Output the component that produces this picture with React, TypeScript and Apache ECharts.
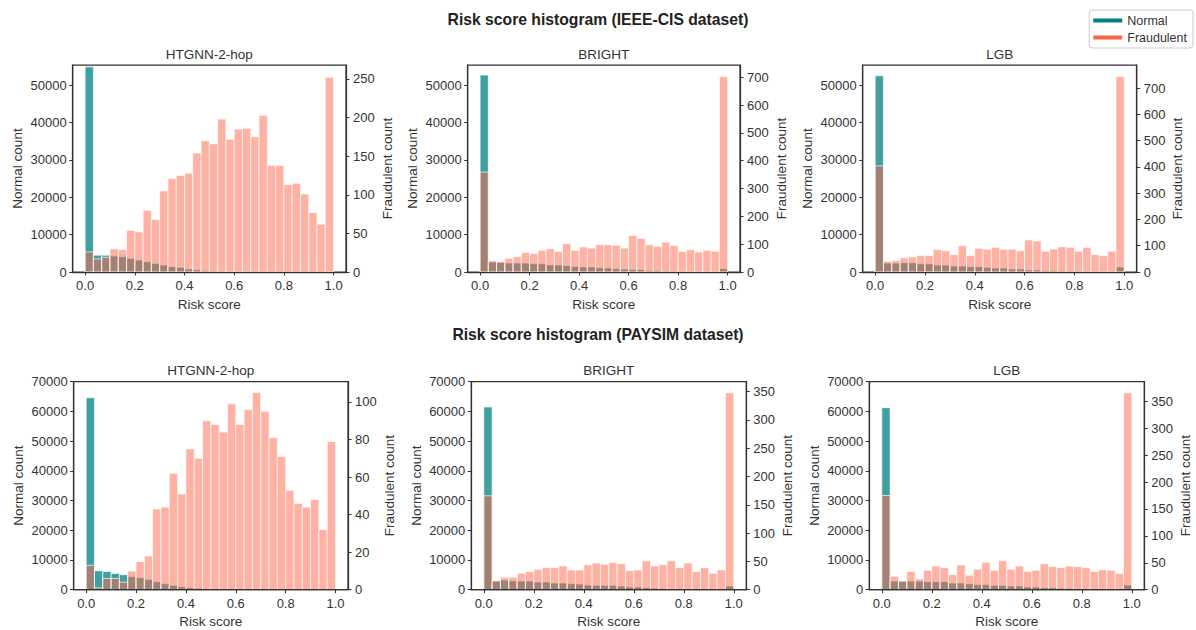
import React, { useEffect, useRef } from "react";
import * as echarts from "echarts";

// ---------- data ----------
const NBINS = 30;
const riskTicks = [0, 0.2, 0.4, 0.6, 0.8, 1.0];

const ieeeNormalTicks = [0, 10000, 20000, 30000, 40000, 50000];
const paysimNormalTicks = [0, 10000, 20000, 30000, 40000, 50000, 60000, 70000];

const ieeeHtgnnFraudTicks = [0, 50, 100, 150, 200, 250];
const ieeeBrightFraudTicks = [0, 100, 200, 300, 400, 500, 600, 700];
const ieeeLgbFraudTicks = [0, 100, 200, 300, 400, 500, 600, 700];
const paysimHtgnnFraudTicks = [0, 20, 40, 60, 80, 100];
const paysimBrightFraudTicks = [0, 50, 100, 150, 200, 250, 300, 350];
const paysimLgbFraudTicks = [0, 50, 100, 150, 200, 250, 300, 350];

const ieeeHtgnnNormal = [54900, 4500, 4500, 4300, 4100, 3650, 3200, 2760, 2300, 1870, 1430, 1250, 800, 620, 360, 270, 180, 120, 90, 70, 50, 40, 30, 20, 15, 10, 10, 10, 10, 100];
const ieeeHtgnnFraud = [26, 17, 19, 30, 29, 54, 52, 80, 68, 105, 121, 125, 128, 154, 170, 166, 198, 172, 185, 186, 175, 203, 138, 138, 113, 115, 101, 77, 62, 252];

const ieeeBrightNormal = [52700, 2670, 2600, 2400, 2400, 2400, 2230, 2230, 1870, 1870, 1700, 1500, 1340, 1340, 1160, 1070, 890, 800, 710, 620, 360, 360, 270, 270, 180, 150, 100, 100, 80, 890];
const ieeeBrightFraud = [359, 40, 37, 49, 55, 70, 66, 78, 84, 74, 102, 78, 90, 86, 98, 98, 96, 86, 131, 121, 98, 92, 107, 95, 74, 80, 72, 78, 75, 702];

const ieeeLgbNormal = [52500, 2400, 2400, 2500, 2500, 2200, 2200, 1870, 1870, 1600, 1600, 1430, 1430, 1250, 1070, 1070, 800, 800, 530, 530, 360, 360, 270, 270, 180, 180, 100, 100, 80, 1340];
const ieeeLgbFraud = [404, 41, 44, 54, 57, 63, 63, 85, 81, 66, 100, 63, 90, 87, 94, 87, 87, 81, 122, 118, 79, 87, 96, 94, 79, 94, 66, 62, 79, 744];

const paysimHtgnnNormal = [64600, 6380, 6160, 5490, 5040, 4480, 4030, 3470, 2690, 2020, 1460, 1000, 670, 450, 220, 120, 60, 30, 20, 10, 10, 5, 5, 5, 5, 5, 5, 5, 5, 10];
const paysimHtgnnFraud = [13, 1, 6, 6, 4, 10, 15, 18, 43, 44, 62, 51, 75, 70, 90, 88, 84, 99, 88, 96, 105, 95, 81, 71, 53, 46, 44, 48, 32, 79];

const paysimBrightNormal = [61500, 2900, 3250, 3000, 2900, 2900, 2580, 2580, 2240, 2240, 2020, 1900, 1570, 1460, 1460, 1460, 1230, 900, 900, 670, 450, 340, 220, 220, 150, 100, 80, 60, 50, 1230];
const paysimBrightFraud = [166, 16, 22, 22, 29, 32, 36, 39, 39, 42, 35, 35, 44, 47, 45, 48, 46, 34, 35, 51, 42, 44, 51, 39, 47, 32, 39, 29, 35, 348];

const paysimLgbNormal = [61250, 2900, 2900, 2900, 2900, 2700, 2700, 2700, 2240, 2240, 2020, 1790, 1790, 1460, 1460, 1230, 1230, 900, 900, 670, 670, 450, 340, 220, 220, 150, 100, 80, 60, 1570];
const paysimLgbFraud = [175, 25, 16, 34, 20, 36, 44, 41, 28, 46, 27, 38, 51, 36, 54, 38, 44, 34, 36, 48, 43, 41, 44, 43, 41, 34, 37, 36, 30, 366];

const mainTitles = ["Risk score histogram (IEEE-CIS dataset)", "Risk score histogram (PAYSIM dataset)"];
const modelNames = ["HTGNN-2-hop", "BRIGHT", "LGB"];

// ---------- panel setup ----------
const panels = [
  { title: modelNames[0], normal: ieeeHtgnnNormal, fraud: ieeeHtgnnFraud, leftMax: 55400, leftTicks: ieeeNormalTicks, rightMax: 268, rightTicks: ieeeHtgnnFraudTicks },
  { title: modelNames[1], normal: ieeeBrightNormal, fraud: ieeeBrightFraud, leftMax: 55400, leftTicks: ieeeNormalTicks, rightMax: 744, rightTicks: ieeeBrightFraudTicks },
  { title: modelNames[2], normal: ieeeLgbNormal, fraud: ieeeLgbFraud, leftMax: 55400, leftTicks: ieeeNormalTicks, rightMax: 788, rightTicks: ieeeLgbFraudTicks },
  { title: modelNames[0], normal: paysimHtgnnNormal, fraud: paysimHtgnnFraud, leftMax: 70000, leftTicks: paysimNormalTicks, rightMax: 110.8, rightTicks: paysimHtgnnFraudTicks },
  { title: modelNames[1], normal: paysimBrightNormal, fraud: paysimBrightFraud, leftMax: 70000, leftTicks: paysimNormalTicks, rightMax: 367.6, rightTicks: paysimBrightFraudTicks },
  { title: modelNames[2], normal: paysimLgbNormal, fraud: paysimLgbFraud, leftMax: 70000, leftTicks: paysimNormalTicks, rightMax: 386.5, rightTicks: paysimLgbFraudTicks },
];

const layouts = [
  { left: 72.7, top: 65, width: 273.3, height: 207 },
  { left: 467.7, top: 65, width: 272.3, height: 207 },
  { left: 862.7, top: 65, width: 274, height: 207 },
  { left: 73.7, top: 381.7, width: 274.3, height: 208 },
  { left: 471.3, top: 381.7, width: 275, height: 208 },
  { left: 869.3, top: 381.7, width: 275, height: 208 },
];

const FONT = "'Liberation Sans', Arial, Helvetica, sans-serif";
const TEXT = "#333333";
const AXIS = "#333333";
const NORMAL_FILL = "rgba(0,128,128,0.75)";
const FRAUD_FILL = "rgba(255,99,71,0.5)";
const NORMAL_LEGEND = "#008080";
const FRAUD_LEGEND = "#ff6347";

function makeRender(fill: string) {
  return (params: any, api: any) => {
    const x0 = api.value(0);
    const x1 = api.value(1);
    const v = api.value(2);
    const a = api.coord([x0, v]);
    const b = api.coord([x1, 0]);
    return {
      type: "rect",
      shape: { x: a[0], y: a[1], width: b[0] - a[0], height: b[1] - a[1] },
      style: { fill, stroke: "rgba(255,255,255,0.85)", lineWidth: 0.8 },
    };
  };
}

function toBins(values: number[]) {
  return values.map((v, i) => [i / NBINS, (i + 1) / NBINS, v]);
}

function buildOption() {
  const grid: any[] = [];
  const xAxis: any[] = [];
  const yAxis: any[] = [];
  const series: any[] = [];
  const title: any[] = [
    { text: mainTitles[0], left: 598, top: 11, textAlign: "center", padding: 0, textStyle: { fontFamily: FONT, fontSize: 15.7, fontWeight: "bold", color: "#222" } },
    { text: mainTitles[1], left: 598, top: 326, textAlign: "center", padding: 0, textStyle: { fontFamily: FONT, fontSize: 15.7, fontWeight: "bold", color: "#222" } },
  ];
  const tickStyle = { show: true, length: 3.5, inside: false, lineStyle: { color: AXIS, width: 1 } };
  const labelStyle = { color: TEXT, fontFamily: FONT, fontSize: 13 };
  const nameStyle = { color: TEXT, fontFamily: FONT, fontSize: 13.5 };

  panels.forEach((p, k) => {
    const L = layouts[k];
    grid.push({ left: L.left, top: L.top, width: L.width, height: L.height, show: true, borderColor: AXIS, borderWidth: 1.25, backgroundColor: "transparent", containLabel: false });
    title.push({ text: p.title, left: L.left + L.width / 2, top: L.top - 18, textAlign: "center", padding: 0, textStyle: { fontFamily: FONT, fontSize: 13.5, fontWeight: "normal", color: TEXT } });
    xAxis.push({
      type: "value", gridIndex: k, min: -0.05, max: 1.05, z: 5,
      name: "Risk score", nameLocation: "middle", nameGap: 25, nameTextStyle: nameStyle,
      axisLine: { show: true, onZero: false, lineStyle: { color: AXIS, width: 1.25 } },
      axisTick: { ...tickStyle, customValues: riskTicks },
      axisLabel: { ...labelStyle, margin: 7, customValues: riskTicks, formatter: (v: number) => v.toFixed(1) },
      splitLine: { show: false },
    });
    yAxis.push({
      type: "value", gridIndex: k, position: "left", min: 0, max: p.leftMax, z: 5,
      name: "Normal count", nameLocation: "middle", nameGap: 48, nameRotate: 90, nameTextStyle: nameStyle,
      axisLine: { show: true, onZero: false, lineStyle: { color: AXIS, width: 1.25 } },
      axisTick: { ...tickStyle, customValues: p.leftTicks },
      axisLabel: { ...labelStyle, margin: 6, customValues: p.leftTicks, formatter: (v: number) => String(v) },
      splitLine: { show: false },
    });
    yAxis.push({
      type: "value", gridIndex: k, position: "right", min: 0, max: p.rightMax, z: 5,
      name: "Fraudulent count", nameLocation: "middle", nameGap: 34, nameRotate: 90, nameTextStyle: nameStyle,
      axisLine: { show: true, onZero: false, lineStyle: { color: AXIS, width: 1.25 } },
      axisTick: { ...tickStyle, customValues: p.rightTicks },
      axisLabel: { ...labelStyle, margin: 7, customValues: p.rightTicks, formatter: (v: number) => String(v) },
      splitLine: { show: false },
    });
    series.push({
      type: "custom", name: "Normal", xAxisIndex: k, yAxisIndex: 2 * k, clip: true, z: 2,
      itemStyle: { color: NORMAL_LEGEND },
      renderItem: makeRender(NORMAL_FILL),
      encode: { x: [0, 1], y: 2 },
      data: toBins(p.normal),
    });
    series.push({
      type: "custom", name: "Fraudulent", xAxisIndex: k, yAxisIndex: 2 * k + 1, clip: true, z: 3,
      itemStyle: { color: FRAUD_LEGEND },
      renderItem: makeRender(FRAUD_FILL),
      encode: { x: [0, 1], y: 2 },
      data: toBins(p.fraud),
    });
  });

  return {
    animation: false,
    backgroundColor: "#ffffff",
    title,
    legend: {
      orient: "vertical", right: 3, top: 10,
      backgroundColor: "#ffffff", borderColor: "#cccccc", borderWidth: 1, borderRadius: 3,
      padding: [4, 6, 4, 4], itemGap: 4, itemWidth: 29, itemHeight: 4, icon: "rect",
      textStyle: { fontFamily: FONT, fontSize: 12.5, color: TEXT },
      data: [
        { name: "Normal", itemStyle: { color: NORMAL_LEGEND } },
        { name: "Fraudulent", itemStyle: { color: FRAUD_LEGEND } },
      ],
    },
    grid, xAxis, yAxis, series,
  };
}

export default function App() {
  const ref = useRef<HTMLDivElement>(null);
  useEffect(() => {
    if (!ref.current) return;
    const chart = echarts.init(ref.current, null, { renderer: "svg" });
    chart.setOption(buildOption() as any);
    return () => chart.dispose();
  }, []);
  return <div ref={ref} style={{ position: "fixed", left: 0, top: 0, width: 1196, height: 630, background: "#fff" }} />;
}
